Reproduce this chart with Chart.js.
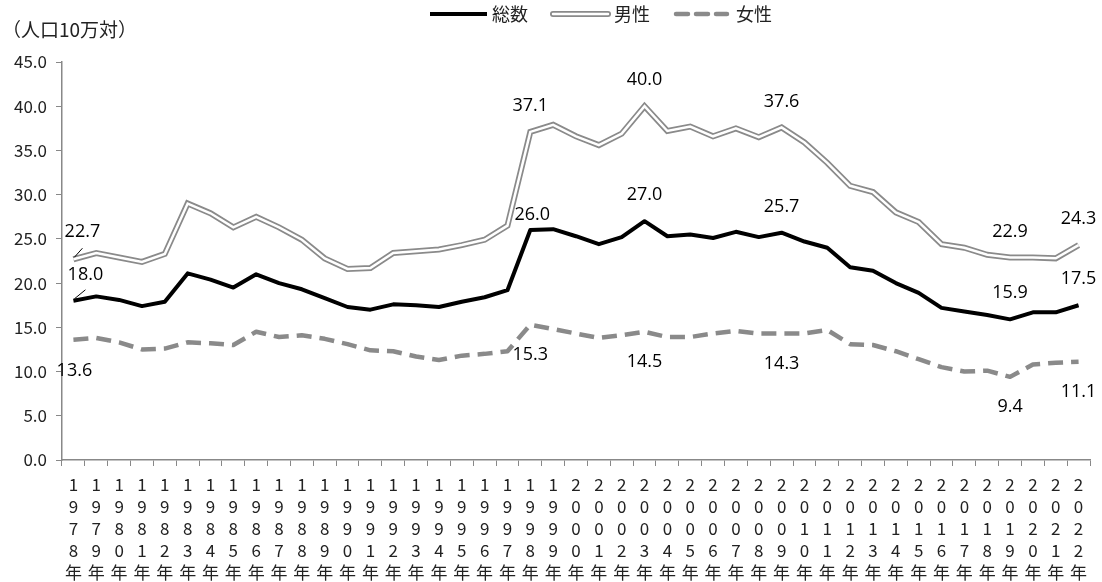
<!DOCTYPE html>
<html>
<head>
<meta charset="utf-8">
<script src="https://cdn.jsdelivr.net/npm/chart.js@4"></script>
<style>
  html, body { margin: 0; padding: 0; background: #fff; }
  #wrap { width: 1102px; height: 582px; position: relative; }
</style>
</head>
<body>
<div id="wrap"><canvas id="chart" width="1102" height="582"></canvas></div>
<script>
'use strict';

const years = ['1978','1979','1980','1981','1982','1983','1984','1985','1986','1987',
  '1988','1989','1990','1991','1992','1993','1994','1995','1996','1997',
  '1998','1999','2000','2001','2002','2003','2004','2005','2006','2007',
  '2008','2009','2010','2011','2012','2013','2014','2015','2016','2017',
  '2018','2019','2020','2021','2022'];

const totalVals = [18.0,18.5,18.1,17.4,17.9,21.1,20.4,19.5,21.0,20.0,
  19.3,18.3,17.3,17.0,17.6,17.5,17.3,17.9,18.4,19.2,
  26.0,26.1,25.3,24.4,25.2,27.0,25.3,25.5,25.1,25.8,
  25.2,25.7,24.7,24.0,21.8,21.4,20.0,18.9,17.2,16.8,
  16.4,15.9,16.7,16.7,17.5];

const maleVals = [22.7,23.4,22.9,22.4,23.3,29.0,27.9,26.3,27.5,26.3,
  24.9,22.8,21.6,21.7,23.4,23.6,23.8,24.3,24.9,26.5,
  37.1,37.9,36.6,35.6,36.9,40.0,37.2,37.7,36.6,37.5,
  36.5,37.6,35.9,33.6,31.0,30.3,28.0,26.9,24.4,24.0,
  23.2,22.9,22.9,22.8,24.3];

const femaleVals = [13.6,13.8,13.3,12.5,12.6,13.3,13.2,13.0,14.5,13.9,
  14.1,13.7,13.1,12.4,12.3,11.7,11.3,11.8,12.0,12.3,
  15.3,14.8,14.3,13.8,14.1,14.5,13.9,13.9,14.3,14.6,
  14.3,14.3,14.3,14.7,13.1,13.0,12.3,11.4,10.5,10.0,
  10.1,9.4,10.8,11.0,11.1];

// years whose values are printed on the chart
const labelIdx = [0, 20, 25, 31, 41, 44];

const yTicks = [0, 5, 10, 15, 20, 25, 30, 35, 40, 45];

const AXIS = '#888888';
const GRAY = '#8a8a8a';
const TICK_FONT = "'Noto Sans CJK JP', sans-serif";
const LABEL_FONT = "'Open Sans', sans-serif";

// label offsets, first year gets leader lines like the picture
function labelOffset(series, i) {
  if (i === 0) {
    if (series === 'male') return { dx: 9, dy: -27, leader: [1, -2, 9, -11] };
    if (series === 'total') return { dx: 12, dy: -26, leader: [1, -2, 12, -11] };
    return { dx: 1, dy: 31 };
  }
  if (series === 'female') return { dx: 0, dy: 30 };
  if (series === 'total' && i === 20) return { dx: 2, dy: -15 };
  return { dx: 0, dy: -26 };
}

const valueLabels = {
  id: 'valueLabels',
  afterDatasetsDraw(chart) {
    const ctx = chart.ctx;
    const x = chart.scales.x, y = chart.scales.y;
    const sets = [['male', maleVals], ['total', totalVals], ['female', femaleVals]];
    ctx.save();
    ctx.font = '18px ' + LABEL_FONT;
    ctx.fillStyle = '#000';
    ctx.textAlign = 'center';
    ctx.textBaseline = 'middle';
    sets.forEach(([name, vals]) => {
      labelIdx.forEach(i => {
        const px = x.getPixelForValue(i);
        const py = y.getPixelForValue(vals[i]);
        const o = labelOffset(name, i);
        ctx.fillText(vals[i].toFixed(1), px + o.dx, py + o.dy);
        if (o.leader) {
          ctx.strokeStyle = '#000';
          ctx.lineWidth = 1;
          ctx.beginPath();
          ctx.moveTo(px + o.leader[0], py + o.leader[1]);
          ctx.lineTo(px + o.leader[2], py + o.leader[3]);
          ctx.stroke();
        }
      });
    });
    ctx.restore();
  }
};

const extras = {
  id: 'extras',
  afterDraw(chart) {
    const ctx = chart.ctx;
    ctx.save();
    ctx.fillStyle = '#222';
    ctx.font = '19px ' + TICK_FONT;
    ctx.textBaseline = 'middle';
    ctx.textAlign = 'left';
    ctx.fillText('（人口10万対）', 2, 30);

    // legend
    const ly = 14;
    ctx.font = '18px ' + TICK_FONT;
    ctx.fillStyle = '#222';
    ctx.lineCap = 'butt';
    // 総数
    ctx.strokeStyle = '#000'; ctx.lineWidth = 4;
    ctx.beginPath(); ctx.moveTo(430, ly); ctx.lineTo(487, ly); ctx.stroke();
    ctx.fillText('総数', 492, ly);
    // 男性
    ctx.lineCap = 'round';
    ctx.strokeStyle = GRAY; ctx.lineWidth = 6;
    ctx.beginPath(); ctx.moveTo(553, ly); ctx.lineTo(608, ly); ctx.stroke();
    ctx.strokeStyle = '#fff'; ctx.lineWidth = 2.5;
    ctx.beginPath(); ctx.moveTo(553, ly); ctx.lineTo(608, ly); ctx.stroke();
    ctx.fillText('男性', 614, ly);
    // 女性
    ctx.strokeStyle = GRAY; ctx.lineWidth = 4.5;
    ctx.setLineDash([12, 8]);
    ctx.beginPath(); ctx.moveTo(676, ly); ctx.lineTo(727, ly); ctx.stroke();
    ctx.setLineDash([]);
    ctx.fillText('女性', 736, ly);
    ctx.restore();
  }
};

// datasets with a higher index are drawn first, so the white core of 男性 sits above its gray edge
new Chart(document.getElementById('chart').getContext('2d'), {
  type: 'line',
  data: {
    labels: years,
    datasets: [
      { label: '総数', data: totalVals, borderColor: '#000', borderWidth: 4,
        borderJoinStyle: 'round', pointRadius: 0, tension: 0 },
      { label: '男性_inner', data: maleVals, borderColor: '#fff', borderWidth: 2.5,
        borderJoinStyle: 'miter', pointRadius: 0, tension: 0 },
      { label: '男性', data: maleVals, borderColor: GRAY, borderWidth: 6,
        borderJoinStyle: 'miter', pointRadius: 0, tension: 0 },
      { label: '女性', data: femaleVals, borderColor: GRAY, borderWidth: 4.5,
        borderDash: [15, 8], borderCapStyle: 'butt', borderJoinStyle: 'round',
        pointRadius: 0, tension: 0 }
    ]
  },
  options: {
    responsive: false,
    animation: false,
    layout: { padding: { top: 62, right: 12, left: 0, bottom: 0 } },
    plugins: { legend: { display: false }, tooltip: { enabled: false } },
    scales: {
      x: {
        offset: true,
        grid: { display: true, drawOnChartArea: false, offset: true, tickLength: 6, color: AXIS },
        border: { color: AXIS, width: 1.5 },
        afterFit(scale) { scale.height = 122; },
        ticks: {
          autoSkip: false, maxRotation: 0, minRotation: 0, padding: 7,
          color: '#222', font: { family: TICK_FONT, size: 17, lineHeight: 1.3 },
          callback(v, i) { return (years[i] + '年').split(''); }
        }
      },
      y: {
        min: 0, max: 45,
        afterBuildTicks(scale) { scale.ticks = yTicks.map(v => ({ value: v })); },
        afterFit(scale) { scale.width = 62; },
        grid: { display: true, drawOnChartArea: false, tickLength: 6, color: AXIS },
        border: { color: AXIS, width: 1.5 },
        ticks: {
          padding: 9, color: '#222', font: { family: TICK_FONT, size: 17 },
          callback(v) { return v.toFixed(1); }
        }
      }
    }
  },
  plugins: [valueLabels, extras]
});
</script>
</body>
</html>
